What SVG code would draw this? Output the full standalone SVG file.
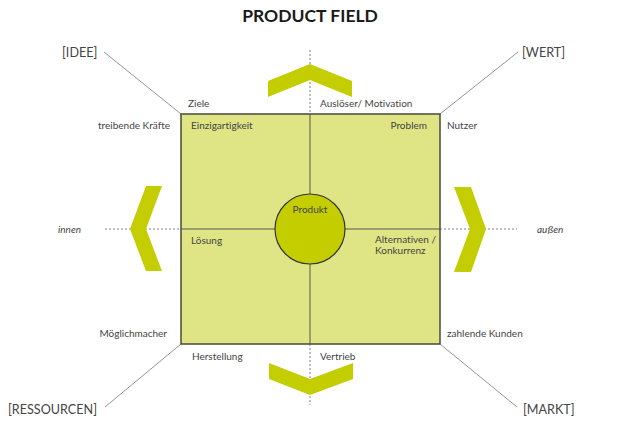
<svg xmlns="http://www.w3.org/2000/svg" width="640" height="424" viewBox="0 0 640 424">
<style>
.t{font-family:Lato,"Open Sans","Liberation Sans",sans-serif;fill:#444;font-size:10px;font-variant-ligatures:none;font-feature-settings:"liga" 0,"dlig" 0}
.big{font-size:12.6px}
.it{font-style:italic}
.title{font-family:Lato,"Open Sans","Liberation Sans",sans-serif;font-weight:bold;font-size:17.5px;fill:#1a1a1a}
.chev{fill:#c3cd00}
.dash{stroke:#666;stroke-width:0.8;stroke-dasharray:2 2;fill:none}
.diag{stroke:#888;stroke-width:0.9;fill:none}
.axis{stroke:#555;stroke-width:1;fill:none}
</style>
<rect width="640" height="424" fill="#fff"/>
<text class="title" x="310" y="22" text-anchor="middle">PRODUCT FIELD</text>
<g id="connectors">
<line class="diag" x1="104" y1="52" x2="181" y2="114"/>
<line class="diag" x1="518" y1="52" x2="440" y2="114"/>
<line class="diag" x1="105" y1="407" x2="181" y2="344"/>
<line class="diag" x1="517" y1="407" x2="440" y2="344"/>
<line class="dash" x1="105" y1="229" x2="181" y2="229"/>
<line class="dash" x1="440" y1="229" x2="517" y2="229"/>
<line class="dash" x1="310" y1="50" x2="310" y2="114"/>
<line class="dash" x1="310" y1="344" x2="310" y2="405"/>
</g>
<g id="field">
<rect x="181" y="114" width="259" height="230" fill="#dfe584" stroke="#4a4a3a" stroke-width="1.5"/>
<line class="axis" x1="181" y1="229" x2="275" y2="229"/>
<line class="axis" x1="345" y1="229" x2="440" y2="229"/>
<line class="axis" x1="310" y1="114" x2="310" y2="194"/>
<line class="axis" x1="310" y1="264" x2="310" y2="344"/>
</g>
<g id="chevron-top"><polygon class="chev" points="268,81 310,64 352,81 352,97 310,80 268,97"/></g>
<g id="chevron-bottom"><polygon class="chev" points="269,363 310,379 353,363 353,379 310,395 269,379"/></g>
<g id="chevron-left"><polygon class="chev" points="146,186 162,186 146,229 162,271 146,271 130,229"/></g>
<g id="chevron-right"><polygon class="chev" points="454,187 471,187 486,229 471,272 454,272 470,229"/></g>
<g id="produkt">
<circle cx="310" cy="229" r="35" fill="#c3cd00" stroke="#333" stroke-width="1.2"/>
<text class="t" x="310" y="213" text-anchor="middle">Produkt</text>
</g>
<g id="idee"><text class="t big" x="62" y="57">[IDEE]</text></g>
<g id="wert"><text class="t big" x="522" y="57">[WERT]</text></g>
<g id="ressourcen"><text class="t big" x="8" y="414">[RESSOURCEN]</text></g>
<g id="markt"><text class="t big" x="523" y="414">[MARKT]</text></g>
<g id="labels">
<text class="t" x="188" y="107">Ziele</text>
<text class="t" x="320" y="107">Auslöser/ Motivation</text>
<text class="t" x="170" y="129" text-anchor="end">treibende Kräfte</text>
<text class="t" x="191" y="129">Einzigartigkeit</text>
<text class="t" x="427" y="129" text-anchor="end">Problem</text>
<text class="t" x="447" y="129">Nutzer</text>
<text class="t it" x="58" y="233">innen</text>
<text class="t it" x="537" y="233">außen</text>
<text class="t" x="191" y="244">Lösung</text>
<text class="t" x="375" y="243">Alternativen /</text>
<text class="t" x="375" y="254">Konkurrenz</text>
<text class="t" x="167" y="337" text-anchor="end">Möglichmacher</text>
<text class="t" x="447" y="337">zahlende Kunden</text>
<text class="t" x="192" y="360">Herstellung</text>
<text class="t" x="320" y="360">Vertrieb</text>
</g>
</svg>
